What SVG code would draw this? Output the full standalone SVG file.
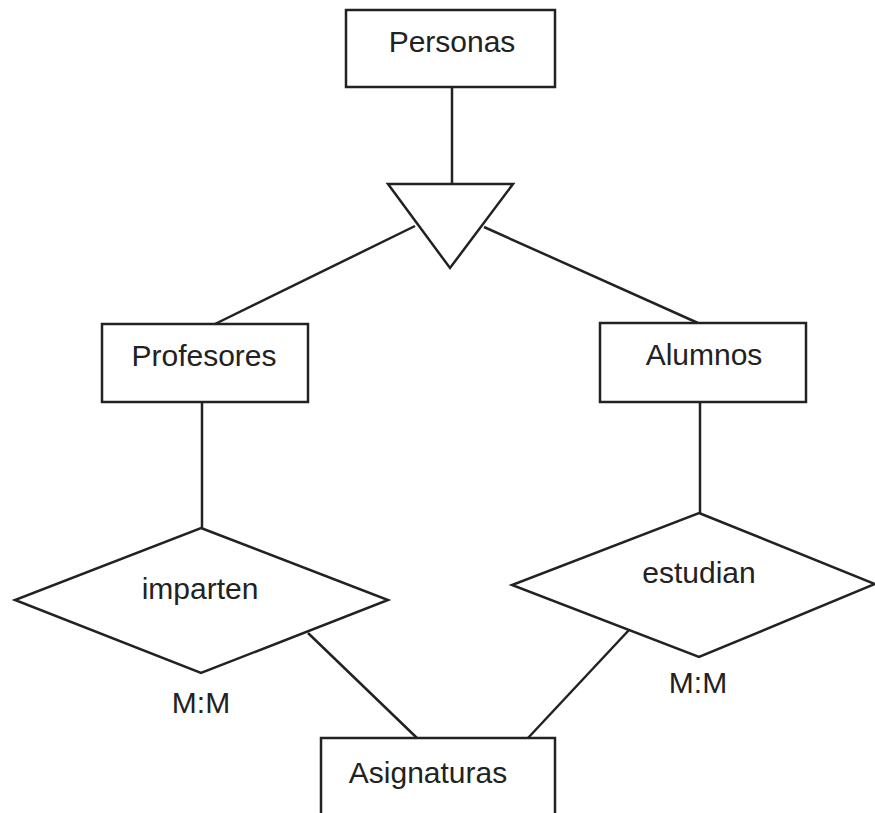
<svg xmlns="http://www.w3.org/2000/svg" width="875" height="813" viewBox="0 0 875 813">
  <style>
    .shape { fill: #ffffff; stroke: #222222; stroke-width: 2.5; }
    .link { stroke: #222222; stroke-width: 2.5; fill: none; }
    .label { font-family: "Liberation Sans", Arial, sans-serif; font-size: 30px; fill: #222222; text-anchor: middle; }
  </style>
  <rect width="875" height="813" fill="#ffffff"/>

  <!-- connectors -->
  <g id="connectors">
    <line class="link" x1="452" y1="87" x2="452" y2="184"/>
    <line class="link" x1="415" y1="226" x2="215" y2="324"/>
    <line class="link" x1="484" y1="227" x2="698" y2="323"/>
    <line class="link" x1="202" y1="402" x2="202" y2="528"/>
    <line class="link" x1="700" y1="402" x2="700" y2="513"/>
    <line class="link" x1="308" y1="633" x2="417" y2="738"/>
    <line class="link" x1="629" y1="630" x2="528" y2="738"/>
  </g>

  <!-- entities -->
  <g id="personas">
    <rect class="shape" x="346" y="10" width="209" height="77"/>
    <text class="label" x="452" y="52">Personas</text>
  </g>

  <g id="isa">
    <polygon class="shape" points="388,184 513,184 450,268"/>
  </g>

  <g id="profesores">
    <rect class="shape" x="102" y="324" width="206" height="78"/>
    <text class="label" x="204" y="366">Profesores</text>
  </g>

  <g id="alumnos">
    <rect class="shape" x="600" y="323" width="206" height="79"/>
    <text class="label" x="704" y="365">Alumnos</text>
  </g>

  <!-- relationships -->
  <g id="imparten">
    <polygon class="shape" points="201,528 388,600 201,673 15,600"/>
    <text class="label" x="200" y="599">imparten</text>
    <text class="label" x="201" y="713">M:M</text>
  </g>

  <g id="estudian">
    <polygon class="shape" points="699,513 875,584 699,657 512,585"/>
    <text class="label" x="699" y="583">estudian</text>
    <text class="label" x="698" y="693">M:M</text>
  </g>

  <g id="asignaturas">
    <rect class="shape" x="321" y="738" width="234" height="90"/>
    <text class="label" x="428" y="783">Asignaturas</text>
  </g>
</svg>
